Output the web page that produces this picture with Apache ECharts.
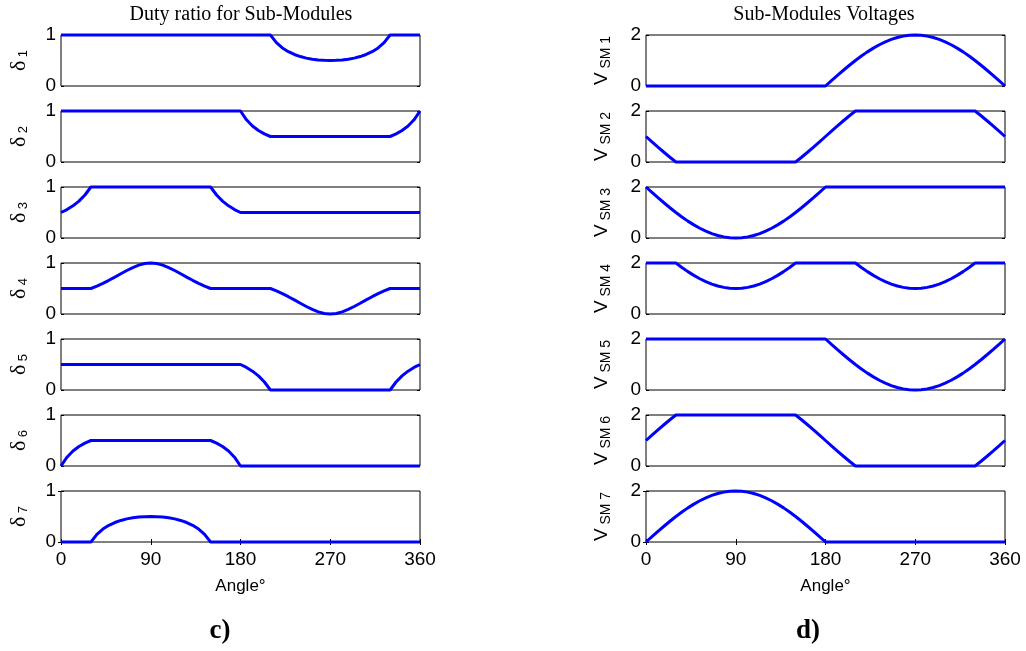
<!DOCTYPE html>
<html>
<head>
<meta charset="utf-8">
<script src="https://cdn.jsdelivr.net/npm/echarts@6/dist/echarts.min.js"></script>
<style>
  html, body { margin: 0; padding: 0; background: #fff; }
  #main { width: 1026px; height: 651px; }
</style>
</head>
<body>
<div id="main"></div>
<script>
// Sample angles (degrees) shared by every trace
const angles = [
  0, 6, 12, 18, 24, 30, 36, 42, 48, 54,
  60, 66, 72, 78, 84, 90, 96, 102, 108, 114,
  120, 126, 132, 138, 144, 150, 156, 162, 168, 174,
  180, 186, 192, 198, 204, 210, 216, 222, 228, 234,
  240, 246, 252, 258, 264, 270, 276, 282, 288, 294,
  300, 306, 312, 318, 324, 330, 336, 342, 348, 354,
  360
];

const xTicks = [0, 90, 180, 270, 360];

// Duty ratios of the seven sub-modules
const duty1 = [
  1, 1, 1, 1, 1, 1, 1, 1, 1, 1,
  1, 1, 1, 1, 1, 1, 1, 1, 1, 1,
  1, 1, 1, 1, 1, 1, 1, 1, 1, 1,
  1, 1, 1, 1, 1, 1, 0.851, 0.747, 0.673, 0.618,
  0.577, 0.547, 0.526, 0.511, 0.503, 0.5, 0.503, 0.511, 0.526, 0.547,
  0.577, 0.618, 0.673, 0.747, 0.851, 1, 1, 1, 1, 1,
  1
];
const duty2 = [
  1, 1, 1, 1, 1, 1, 1, 1, 1, 1,
  1, 1, 1, 1, 1, 1, 1, 1, 1, 1,
  1, 1, 1, 1, 1, 1, 1, 1, 1, 1,
  1, 0.827, 0.706, 0.618, 0.551, 0.5, 0.5, 0.5, 0.5, 0.5,
  0.5, 0.5, 0.5, 0.5, 0.5, 0.5, 0.5, 0.5, 0.5, 0.5,
  0.5, 0.5, 0.5, 0.5, 0.5, 0.5, 0.551, 0.618, 0.706, 0.827,
  1
];
const duty3 = [
  0.5, 0.558, 0.631, 0.724, 0.843, 1, 1, 1, 1, 1,
  1, 1, 1, 1, 1, 1, 1, 1, 1, 1,
  1, 1, 1, 1, 1, 1, 0.843, 0.724, 0.631, 0.558,
  0.5, 0.5, 0.5, 0.5, 0.5, 0.5, 0.5, 0.5, 0.5, 0.5,
  0.5, 0.5, 0.5, 0.5, 0.5, 0.5, 0.5, 0.5, 0.5, 0.5,
  0.5, 0.5, 0.5, 0.5, 0.5, 0.5, 0.5, 0.5, 0.5, 0.5,
  0.5
];
const duty4 = [
  0.5, 0.5, 0.5, 0.5, 0.5, 0.5, 0.548, 0.602, 0.661, 0.724,
  0.789, 0.853, 0.911, 0.958, 0.989, 1, 0.989, 0.958, 0.911, 0.853,
  0.789, 0.724, 0.661, 0.602, 0.548, 0.5, 0.5, 0.5, 0.5, 0.5,
  0.5, 0.5, 0.5, 0.5, 0.5, 0.5, 0.452, 0.398, 0.339, 0.276,
  0.211, 0.147, 0.089, 0.042, 0.011, 0, 0.011, 0.042, 0.089, 0.147,
  0.211, 0.276, 0.339, 0.398, 0.452, 0.5, 0.5, 0.5, 0.5, 0.5,
  0.5
];
const duty5 = [
  0.5, 0.5, 0.5, 0.5, 0.5, 0.5, 0.5, 0.5, 0.5, 0.5,
  0.5, 0.5, 0.5, 0.5, 0.5, 0.5, 0.5, 0.5, 0.5, 0.5,
  0.5, 0.5, 0.5, 0.5, 0.5, 0.5, 0.5, 0.5, 0.5, 0.5,
  0.5, 0.442, 0.369, 0.276, 0.157, 0, 0, 0, 0, 0,
  0, 0, 0, 0, 0, 0, 0, 0, 0, 0,
  0, 0, 0, 0, 0, 0, 0.157, 0.276, 0.369, 0.442,
  0.5
];
const duty6 = [
  0, 0.173, 0.294, 0.382, 0.449, 0.5, 0.5, 0.5, 0.5, 0.5,
  0.5, 0.5, 0.5, 0.5, 0.5, 0.5, 0.5, 0.5, 0.5, 0.5,
  0.5, 0.5, 0.5, 0.5, 0.5, 0.5, 0.449, 0.382, 0.294, 0.173,
  0, 0, 0, 0, 0, 0, 0, 0, 0, 0,
  0, 0, 0, 0, 0, 0, 0, 0, 0, 0,
  0, 0, 0, 0, 0, 0, 0, 0, 0, 0,
  0
];
const duty7 = [
  0, 0, 0, 0, 0, 0, 0.149, 0.253, 0.327, 0.382,
  0.423, 0.453, 0.474, 0.489, 0.497, 0.5, 0.497, 0.489, 0.474, 0.453,
  0.423, 0.382, 0.327, 0.253, 0.149, 0, 0, 0, 0, 0,
  0, 0, 0, 0, 0, 0, 0, 0, 0, 0,
  0, 0, 0, 0, 0, 0, 0, 0, 0, 0,
  0, 0, 0, 0, 0, 0, 0, 0, 0, 0,
  0
];

// Sub-module capacitor voltages
const vsm1 = [
  0, 0, 0, 0, 0, 0, 0, 0, 0, 0,
  0, 0, 0, 0, 0, 0, 0, 0, 0, 0,
  0, 0, 0, 0, 0, 0, 0, 0, 0, 0,
  0, 0.209, 0.416, 0.618, 0.813, 1, 1.176, 1.338, 1.486, 1.618,
  1.732, 1.827, 1.902, 1.956, 1.989, 2, 1.989, 1.956, 1.902, 1.827,
  1.732, 1.618, 1.486, 1.338, 1.176, 1, 0.813, 0.618, 0.416, 0.209,
  0
];
const vsm2 = [
  1, 0.791, 0.584, 0.382, 0.187, 0, 0, 0, 0, 0,
  0, 0, 0, 0, 0, 0, 0, 0, 0, 0,
  0, 0, 0, 0, 0, 0, 0.187, 0.382, 0.584, 0.791,
  1, 1.209, 1.416, 1.618, 1.813, 2, 2, 2, 2, 2,
  2, 2, 2, 2, 2, 2, 2, 2, 2, 2,
  2, 2, 2, 2, 2, 2, 1.813, 1.618, 1.416, 1.209,
  1
];
const vsm3 = [
  2, 1.791, 1.584, 1.382, 1.187, 1, 0.824, 0.662, 0.514, 0.382,
  0.268, 0.173, 0.098, 0.044, 0.011, 0, 0.011, 0.044, 0.098, 0.173,
  0.268, 0.382, 0.514, 0.662, 0.824, 1, 1.187, 1.382, 1.584, 1.791,
  2, 2, 2, 2, 2, 2, 2, 2, 2, 2,
  2, 2, 2, 2, 2, 2, 2, 2, 2, 2,
  2, 2, 2, 2, 2, 2, 2, 2, 2, 2,
  2
];
const vsm4 = [
  2, 2, 2, 2, 2, 2, 1.824, 1.662, 1.514, 1.382,
  1.268, 1.173, 1.098, 1.044, 1.011, 1, 1.011, 1.044, 1.098, 1.173,
  1.268, 1.382, 1.514, 1.662, 1.824, 2, 2, 2, 2, 2,
  2, 2, 2, 2, 2, 2, 1.824, 1.662, 1.514, 1.382,
  1.268, 1.173, 1.098, 1.044, 1.011, 1, 1.011, 1.044, 1.098, 1.173,
  1.268, 1.382, 1.514, 1.662, 1.824, 2, 2, 2, 2, 2,
  2
];
const vsm5 = [
  2, 2, 2, 2, 2, 2, 2, 2, 2, 2,
  2, 2, 2, 2, 2, 2, 2, 2, 2, 2,
  2, 2, 2, 2, 2, 2, 2, 2, 2, 2,
  2, 1.791, 1.584, 1.382, 1.187, 1, 0.824, 0.662, 0.514, 0.382,
  0.268, 0.173, 0.098, 0.044, 0.011, 0, 0.011, 0.044, 0.098, 0.173,
  0.268, 0.382, 0.514, 0.662, 0.824, 1, 1.187, 1.382, 1.584, 1.791,
  2
];
const vsm6 = [
  1, 1.209, 1.416, 1.618, 1.813, 2, 2, 2, 2, 2,
  2, 2, 2, 2, 2, 2, 2, 2, 2, 2,
  2, 2, 2, 2, 2, 2, 1.813, 1.618, 1.416, 1.209,
  1, 0.791, 0.584, 0.382, 0.187, 0, 0, 0, 0, 0,
  0, 0, 0, 0, 0, 0, 0, 0, 0, 0,
  0, 0, 0, 0, 0, 0, 0.187, 0.382, 0.584, 0.791,
  1
];
const vsm7 = [
  0, 0.209, 0.416, 0.618, 0.813, 1, 1.176, 1.338, 1.486, 1.618,
  1.732, 1.827, 1.902, 1.956, 1.989, 2, 1.989, 1.956, 1.902, 1.827,
  1.732, 1.618, 1.486, 1.338, 1.176, 1, 0.813, 0.618, 0.416, 0.209,
  0, 0, 0, 0, 0, 0, 0, 0, 0, 0,
  0, 0, 0, 0, 0, 0, 0, 0, 0, 0,
  0, 0, 0, 0, 0, 0, 0, 0, 0, 0,
  0
];

const dutySeries = [duty1, duty2, duty3, duty4, duty5, duty6, duty7];
const voltSeries = [vsm1, vsm2, vsm3, vsm4, vsm5, vsm6, vsm7];
const moduleNumbers = ['1', '2', '3', '4', '5', '6', '7'];
const dutyTicks = [0, 1];
const voltTicks = [0, 2];

const leftTitle = 'Duty ratio for Sub-Modules';
const rightTitle = 'Sub-Modules Voltages';
const xName = 'Angle°';

// ---- layout ----
const SANS = '"Liberation Sans", Arial, Helvetica, sans-serif';
const SERIF = '"Liberation Serif", "Times New Roman", serif';
const panelTops = [35, 111, 187, 263, 339, 415, 491];
const panelHeight = 51;
const colLeft = [61, 646];
const panelWidth = 359;

const grids = [], xAxes = [], yAxes = [], series = [];

function addPanel(col, row, values, ticks, yName, yRich, nameGap) {
  const gi = grids.length;
  const isBottom = row === panelTops.length - 1;
  const ymax = ticks[ticks.length - 1];
  grids.push({
    left: colLeft[col], top: panelTops[row], width: panelWidth, height: panelHeight,
    show: true, borderColor: '#000', borderWidth: 1, backgroundColor: 'transparent'
  });
  const xi = xAxes.length;
  xAxes.push({
    gridIndex: gi, type: 'value', position: 'bottom',
    min: xTicks[0], max: xTicks[xTicks.length - 1], interval: xTicks[1] - xTicks[0],
    axisLine: { show: false }, splitLine: { show: false },
    axisTick: { show: isBottom, inside: true, length: 3, lineStyle: { color: '#000' } },
    axisLabel: { show: isBottom, color: '#000', fontSize: 19, fontFamily: SANS, margin: 8 },
    name: isBottom ? xName : '', nameLocation: 'middle', nameGap: 36,
    nameTextStyle: { color: '#000', fontSize: 17, fontFamily: SANS }
  });
  if (isBottom) {
    xAxes.push({
      gridIndex: gi, type: 'value', position: 'top',
      min: xTicks[0], max: xTicks[xTicks.length - 1], interval: xTicks[1] - xTicks[0],
      axisLine: { show: false }, splitLine: { show: false }, axisLabel: { show: false },
      axisTick: { show: true, inside: true, length: 3, lineStyle: { color: '#000' } }
    });
  }
  const yi = yAxes.length;
  yAxes.push({
    gridIndex: gi, type: 'value', position: 'left',
    min: ticks[0], max: ymax, interval: ymax - ticks[0],
    axisLine: { show: false }, splitLine: { show: false },
    axisTick: { show: true, inside: true, length: 3, lineStyle: { color: '#000' } },
    axisLabel: { color: '#000', fontSize: 19, fontFamily: SANS, margin: 5 },
    name: yName, nameLocation: 'middle', nameRotate: 90, nameGap: nameGap,
    nameTextStyle: { color: '#000', rich: yRich }
  });
  yAxes.push({
    gridIndex: gi, type: 'value', position: 'right',
    min: ticks[0], max: ymax, interval: ymax - ticks[0],
    axisLine: { show: false }, splitLine: { show: false }, axisLabel: { show: false },
    axisTick: { show: true, inside: true, length: 3, lineStyle: { color: '#000' } }
  });
  series.push({
    type: 'line', xAxisIndex: xi, yAxisIndex: yi,
    data: angles.map((a, i) => [a, values[i]]),
    showSymbol: false, symbol: 'none', clip: false, smooth: false,
    lineStyle: { color: '#0000ff', width: 3 },
    animation: false, silent: true
  });
}

const dutyRich = {
  d: { fontFamily: SERIF, fontSize: 22, lineHeight: 22, color: '#000', verticalAlign: 'middle' },
  s: { fontFamily: SANS, fontSize: 13, lineHeight: 12, color: '#000', verticalAlign: 'bottom' }
};
const voltRich = {
  v: { fontFamily: SANS, fontSize: 19, lineHeight: 22, color: '#000', verticalAlign: 'middle' },
  s: { fontFamily: SANS, fontSize: 14, lineHeight: 12, color: '#000', verticalAlign: 'bottom' }
};

for (let r = 0; r < 7; r++) {
  addPanel(0, r, dutySeries[r], dutyTicks, '{d|δ}{s| ' + moduleNumbers[r] + '}', dutyRich, 31);
  addPanel(1, r, voltSeries[r], voltTicks, '{v|V}{s| SM ' + moduleNumbers[r] + '}', voltRich, 33);
}

const chart = echarts.init(document.getElementById('main'), null, { renderer: 'canvas' });
chart.setOption({
  backgroundColor: '#fff',
  animation: false,
  grid: grids,
  xAxis: xAxes,
  yAxis: yAxes,
  series: series,
  graphic: [
    { type: 'text', x: 241, y: 15, style: { text: leftTitle, font: '20px ' + SERIF, fill: '#000', align: 'center', verticalAlign: 'middle' } },
    { type: 'text', x: 824, y: 15, style: { text: rightTitle, font: '20px ' + SERIF, fill: '#000', align: 'center', verticalAlign: 'middle' } },
    { type: 'text', x: 220, y: 631, style: { text: 'c)', font: 'bold 27px ' + SERIF, fill: '#000', align: 'center', verticalAlign: 'middle' } },
    { type: 'text', x: 808, y: 631, style: { text: 'd)', font: 'bold 27px ' + SERIF, fill: '#000', align: 'center', verticalAlign: 'middle' } }
  ]
});
</script>
</body>
</html>
